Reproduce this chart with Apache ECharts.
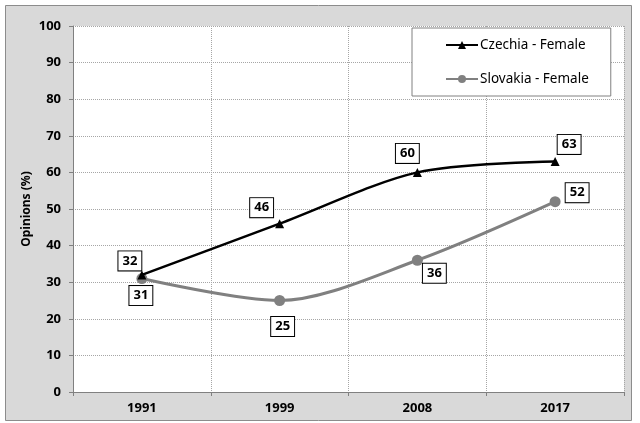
<!DOCTYPE html>
<html>
<head>
<meta charset="utf-8">
<script src="https://cdn.jsdelivr.net/npm/echarts@6/dist/echarts.min.js"></script>
<style>
  html, body { margin: 0; padding: 0; background: #fff; }
  #chart { width: 640px; height: 423px; }
</style>
</head>
<body>
<div id="chart"></div>
<script>
// data
const years = ['1991', '1999', '2008', '2017']
const czechia = [32, 46, 60, 63]
const slovakia = [31, 25, 36, 52]
const yTicks = { min: 0, max: 100, interval: 10 }

// label placement around each point (dx, dy)
const czOffsets = [[-12, -14], [-18, -16], [-10, -19], [14, -17]]
const skOffsets = [[-1, 17], [3, 26], [17, 13], [22, -9]]

const chart = echarts.init(document.getElementById('chart'))
const font = 'Noto Sans'

function withLabels(values, offsets) {
  return values.map((v, i) => ({
    value: v,
    label: { position: 'inside', offset: offsets[i] }
  }))
}

const labelStyle = {
  show: true,
  color: '#000',
  fontFamily: font,
  fontWeight: 'bold',
  fontSize: 13,
  backgroundColor: '#fff',
  borderColor: '#000',
  borderWidth: 1,
  padding: [4, 4, 2, 4]
}

const option = {
  animation: false,
  graphic: [{
    type: 'rect',
    z: -10,
    shape: { x: 5.5, y: 5.5, width: 626, height: 415 },
    style: { fill: '#d9d9d9', stroke: '#8c8c8c', lineWidth: 1 }
  }],
  grid: {
    left: 73, right: 16, top: 26, bottom: 31,
    show: true, backgroundColor: '#fff', borderWidth: 0
  },
  legend: {
    orient: 'vertical',
    left: 412, top: 28,
    backgroundColor: '#fff',
    borderColor: '#808080',
    borderWidth: 1,
    padding: [10, 22, 10, 33],
    itemGap: 20,
    itemWidth: 32,
    itemHeight: 10,
    textStyle: { fontFamily: font, fontSize: 13.5, color: '#000', padding: [0, 0, 0, -3] },
    data: ['Czechia - Female', 'Slovakia - Female']
  },
  xAxis: {
    type: 'category',
    data: years,
    boundaryGap: true,
    axisLine: { lineStyle: { color: '#808080', width: 1 } },
    axisTick: { show: true, length: 4, lineStyle: { color: '#808080' } },
    axisLabel: { margin: 10, color: '#000', fontFamily: font, fontWeight: 'bold', fontSize: 13 },
    splitLine: { show: true, lineStyle: { color: '#a6a6a6', type: 'dotted', width: 1 } }
  },
  yAxis: {
    type: 'value',
    min: yTicks.min, max: yTicks.max, interval: yTicks.interval,
    name: 'Opinions (%)',
    nameLocation: 'middle',
    nameRotate: 90,
    nameGap: 40,
    nameMoveOverlap: false,
    nameTextStyle: { color: '#000', fontFamily: font, fontWeight: 'bold', fontSize: 12 },
    axisLine: { show: true, lineStyle: { color: '#808080', width: 1 } },
    axisTick: { show: true, length: 4, lineStyle: { color: '#808080' } },
    axisLabel: { margin: 12, color: '#000', fontFamily: font, fontWeight: 'bold', fontSize: 13 },
    splitLine: { show: true, lineStyle: { color: '#a6a6a6', type: 'dotted', width: 1 } }
  },
  series: [
    {
      name: 'Czechia - Female',
      type: 'line',
      smooth: 0.3,
      symbol: 'triangle',
      symbolSize: 9,
      itemStyle: { color: '#000' },
      lineStyle: { color: '#000', width: 2.5 },
      label: labelStyle,
      data: withLabels(czechia, czOffsets),
      z: 3
    },
    {
      name: 'Slovakia - Female',
      type: 'line',
      smooth: 0.3,
      symbol: 'circle',
      symbolSize: 11,
      itemStyle: { color: '#808080' },
      lineStyle: { color: '#808080', width: 3 },
      label: labelStyle,
      data: withLabels(slovakia, skOffsets),
      z: 2
    }
  ]
}

chart.setOption(option)
</script>
</body>
</html>
